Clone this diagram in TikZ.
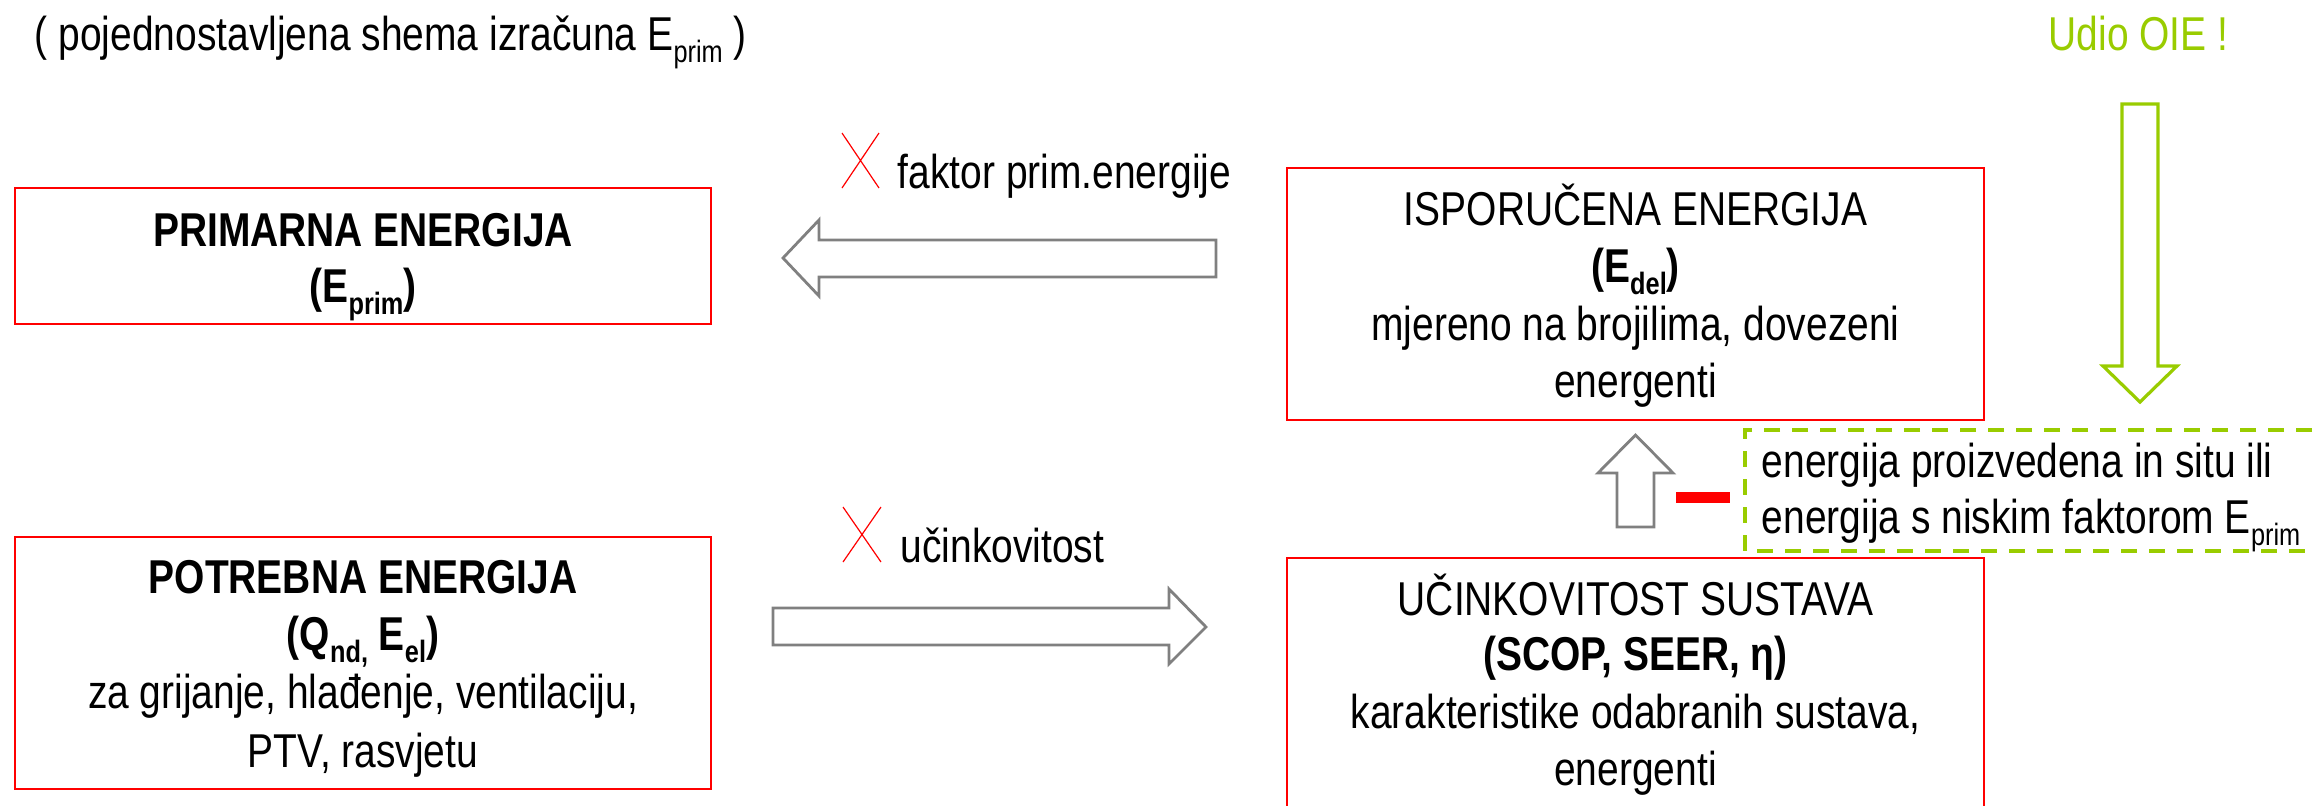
\documentclass[tikz,border=0pt]{standalone}
\usepackage{fontspec}
\usepackage{graphicx}
\setmainfont{Liberation Sans}
\newfontfamily\narrowfont{Liberation Sans}[FakeStretch=0.82]
\newcommand{\sbs}[1]{\raisebox{-0.27em}{\scalebox{0.65}{#1}}}
\definecolor{oiegreen}{RGB}{153,204,0}
\definecolor{arrgray}{RGB}{128,128,128}
\begin{document}
\begin{tikzpicture}[x=0.25pt,y=-0.25pt,
  txt/.style={inner sep=0pt, anchor=base, font=\narrowfont\fontsize{11.875}{14}\selectfont},
  redbox/.style={draw=red, line width=0.5pt, inner sep=0pt},
  blockarrow/.style={draw=arrgray, line width=0.7pt, fill=white, line join=miter},
  greenarrow/.style={draw=oiegreen, line width=0.8pt, fill=white, line join=miter},
  xmark/.style={draw=red, line width=0.3pt}
]
\useasboundingbox (0,0) rectangle (2317,805);
\clip (0,0) rectangle (2317,805);

% boxes
\node[redbox, minimum width=174pt, minimum height=34pt] (prim) at (363,256) {};
\node[redbox, minimum width=174pt, minimum height=63pt] (potr) at (363,663) {};
\node[redbox, minimum width=174.25pt, minimum height=63pt] (ispo) at (1635.5,294) {};
\node[redbox, minimum width=174.25pt, minimum height=68pt] (ucin) at (1635.5,694) {};

% texts in boxes
\node[txt] (prim1) at (363,246) {\bfseries PRIMARNA ENERGIJA};
\node[txt] (prim2) at (363,302) {\bfseries (E\sbs{prim})};

\node[txt] (potr1) at (363,593) {\bfseries POTREBNA ENERGIJA};
\node[txt] (potr2) at (363,650) {\bfseries (Q\sbs{nd,} E\sbs{el})};
\node[txt] (potr3) at (363,708) {za grijanje, hlađenje, ventilaciju,};
\node[txt] (potr4) at (363,767) {PTV, rasvjetu};

\node[txt] (ispo1) at (1635.5,225) {ISPORUČENA ENERGIJA};
\node[txt] (ispo2) at (1635.5,282) {\bfseries (E\sbs{del})};
\node[txt] (ispo3) at (1635.5,340) {mjereno na brojilima, dovezeni};
\node[txt] (ispo4) at (1635.5,397) {energenti};

\node[txt] (ucin1) at (1635.5,615) {UČINKOVITOST SUSTAVA};
\node[txt] (ucin2) at (1635.5,670) {\bfseries (SCOP, SEER, η)};
\node[txt] (ucin3) at (1635.5,728) {karakteristike odabranih sustava,};
\node[txt] (ucin4) at (1635.5,785) {energenti};

% title and labels
\node[txt, anchor=base west] (title) at (34,50) {( pojednostavljena shema izračuna E\sbs{prim} )};
\node[txt, anchor=base west] (fak) at (897,188) {faktor prim.energije};
\node[txt, anchor=base west] (uci) at (900,562) {učinkovitost};
\node[txt, anchor=base west, text=oiegreen] (oie) at (2048,50) {Udio OIE !};
\node[txt, anchor=base west] (ins1) at (1761,477) {energija proizvedena in situ ili};
\node[txt, anchor=base west] (ins2) at (1761,533) {energija s niskim faktorom E\sbs{prim}};

% red crosses
\draw[xmark] (842,133) -- (879,188) (842,188) -- (879,133);
\draw[xmark] (843,507) -- (881,562) (843,562) -- (881,507);

% block arrows
\draw[blockarrow] (783,258) -- (819,220) -- (819,240) -- (1216,240) -- (1216,277) -- (819,277) -- (819,296) -- cycle;
\draw[blockarrow] (1206,627) -- (1169,589) -- (1169,608) -- (773,608) -- (773,645) -- (1169,645) -- (1169,664) -- cycle;
\draw[blockarrow] (1635.5,435) -- (1673,473) -- (1654,473) -- (1654,527) -- (1617,527) -- (1617,473) -- (1598,473) -- cycle;
\draw[greenarrow] (2140,402) -- (2103,366) -- (2122,366) -- (2122,104) -- (2158,104) -- (2158,366) -- (2177,366) -- cycle;

% minus sign
\fill[red] (1676,492) rectangle (1730,503);

% dashed green frame (open to the right)
\draw[oiegreen, line width=1.1pt, dash pattern=on 4pt off 3pt] (2340,430) -- (1745,430) -- (1745,551) -- (2340,551);
\end{tikzpicture}
\end{document}
